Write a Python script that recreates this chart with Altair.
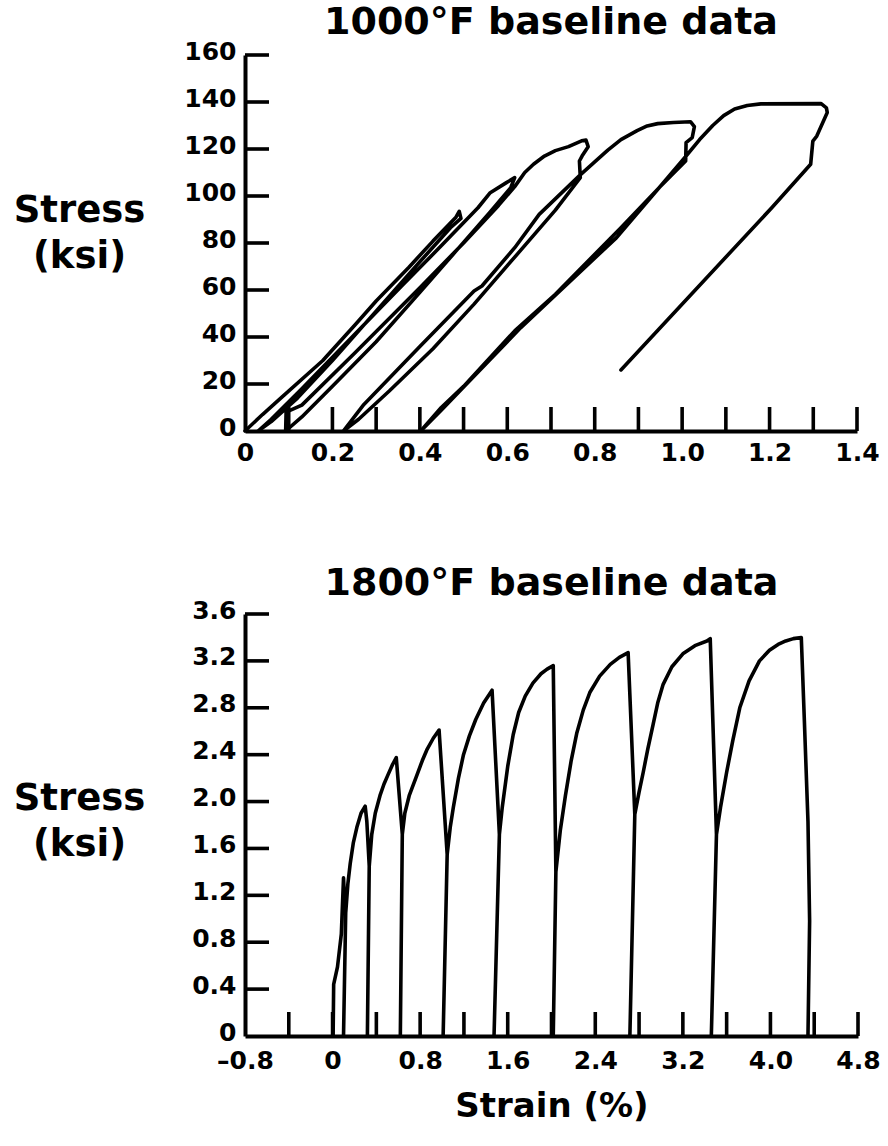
import altair as alt
import pandas as pd

FONT = "DejaVu Sans"

# ---------------- data: 1000°F panel (strain %, stress ksi), one continuous path
top_strain = [0.000, 0.040, 0.085, 0.178, 0.253, 0.300, 0.374, 0.430, 0.482, 0.490, 0.494,
              0.470, 0.400, 0.300, 0.200, 0.120, 0.060, 0.030,
              0.060, 0.130, 0.250, 0.360, 0.450, 0.533, 0.561, 0.598, 0.617,
              0.608, 0.560, 0.480, 0.400, 0.300, 0.200, 0.130, 0.093,
              0.094, 0.130, 0.250, 0.400, 0.500, 0.580, 0.617, 0.640, 0.660, 0.685, 0.710, 0.740,
              0.770, 0.780, 0.785, 0.771, 0.765, 0.767,
              0.710, 0.617, 0.524, 0.430, 0.330, 0.260, 0.225,
              0.250, 0.272, 0.400, 0.524, 0.542, 0.617, 0.673, 0.767, 0.800, 0.830, 0.860, 0.897,
              0.920, 0.944, 0.980, 1.019, 1.028, 1.023, 1.009, 1.008,
              0.950, 0.860, 0.710, 0.617, 0.500, 0.449, 0.402,
              0.450, 0.631, 0.850, 1.000, 1.040, 1.070, 1.095, 1.120, 1.149, 1.180, 1.318,
              1.330, 1.332, 1.308, 1.299, 1.294,
              1.205, 0.860]
top_stress = [0.0, 7.0, 14.5, 30.0, 45.4, 55.3, 69.5, 80.8, 90.8, 93.5, 90.5,
              86.5, 72.0, 51.0, 30.0, 14.0, 4.0, 0.0,
              5.0, 18.0, 41.0, 62.0, 79.0, 95.0, 101.4, 105.7, 107.8,
              103.6, 93.0, 76.0, 59.0, 38.0, 19.0, 6.0, 0.0,
              8.0, 11.0, 33.0, 61.0, 80.0, 96.0, 104.0, 110.0, 113.5, 117.0, 119.3, 121.0,
              123.5, 123.8, 121.0, 117.0, 114.9, 107.8,
              94.0, 74.0, 54.0, 35.0, 17.0, 5.0, 0.0,
              6.0, 11.3, 36.0, 59.6, 61.7, 78.0, 92.2, 109.0, 114.5, 119.5, 124.0, 127.8,
              129.8, 130.8, 131.3, 131.6, 129.5, 124.8, 122.7, 114.9,
              104.0, 86.5, 58.2, 42.6, 19.0, 10.0, 0.0,
              9.0, 44.0, 82.3, 115.0, 124.0, 130.0, 134.2, 137.0, 138.5, 139.2, 139.3,
              137.5, 135.5, 125.5, 123.4, 113.5,
              95.0, 26.0]

# ---------------- data: 1800°F panel
bot_strain = [0.005, 0.010, 0.045, 0.080, 0.100, 0.110, 0.120, 0.100, 0.120,
              0.140, 0.161, 0.190, 0.222, 0.260, 0.298, 0.313, 0.335, 0.318, 0.335,
              0.358, 0.390, 0.433, 0.470, 0.507, 0.545, 0.582, 0.637, 0.619, 0.637,
              0.660, 0.700, 0.768, 0.820, 0.861, 0.920, 0.973, 1.047, 1.010, 1.047,
              1.075, 1.103, 1.150, 1.196, 1.250, 1.308, 1.380, 1.457, 1.524, 1.475, 1.524,
              1.550, 1.600, 1.650, 1.700, 1.760, 1.830, 1.904, 1.960, 2.016, 2.040, 2.016, 2.040,
              2.080, 2.127, 2.180, 2.230, 2.290, 2.350, 2.440, 2.537, 2.620, 2.700,
              2.761, 2.716, 2.761,
              2.800, 2.838, 2.880, 2.929, 2.970, 3.020, 3.100, 3.200, 3.310, 3.420, 3.450,
              3.507, 3.460, 3.507,
              3.544, 3.600, 3.656, 3.720, 3.805, 3.900, 3.991, 4.070, 4.140, 4.210, 4.282,
              4.310, 4.343, 4.358, 4.343]
bot_stress = [0.0, 0.44, 0.59, 0.87, 1.35, 1.15, 1.05, 0.0, 1.05,
              1.30, 1.47, 1.65, 1.78, 1.90, 1.96, 1.83, 1.45, 0.0, 1.45,
              1.72, 1.90, 2.05, 2.15, 2.23, 2.31, 2.375, 1.72, 0.0, 1.72,
              1.90, 2.05, 2.22, 2.35, 2.44, 2.54, 2.61, 1.55, 0.0, 1.55,
              1.78, 1.95, 2.20, 2.40, 2.56, 2.70, 2.84, 2.95, 1.72, 0.0, 1.72,
              1.95, 2.30, 2.57, 2.76, 2.90, 3.01, 3.09, 3.13, 3.16, 1.40, 0.0, 1.40,
              1.75, 2.05, 2.35, 2.58, 2.78, 2.93, 3.07, 3.17, 3.23, 3.27,
              1.89, 0.0, 1.89,
              2.08, 2.25, 2.45, 2.66, 2.84, 3.00, 3.15, 3.26, 3.33, 3.37, 3.39,
              1.72, 0.0, 1.72,
              1.95, 2.25, 2.52, 2.80, 3.03, 3.20, 3.29, 3.34, 3.37, 3.39, 3.40,
              2.69, 1.83, 0.98, 0.0]

# ---------------- ticks / labels
top_xlabels = [0, 0.2, 0.4, 0.6, 0.8, 1.0, 1.2, 1.4]
top_xticks = [0.1, 0.2, 0.3, 0.4, 0.5, 0.6, 0.7, 0.8, 0.9, 1.0, 1.1, 1.2, 1.3, 1.4]
top_ylabels = [0, 20, 40, 60, 80, 100, 120, 140, 160]
top_yticks = [20, 40, 60, 80, 100, 120, 140, 160]

bot_xlabels = [-0.8, 0, 0.8, 1.6, 2.4, 3.2, 4.0, 4.8]
bot_xticks = [-0.4, 0, 0.4, 0.8, 1.2, 1.6, 2.0, 2.4, 2.8, 3.2, 3.6, 4.0, 4.4, 4.8]
bot_ylabels = [0, 0.4, 0.8, 1.2, 1.6, 2.0, 2.4, 2.8, 3.2, 3.6]
bot_yticks = [0.4, 0.8, 1.2, 1.6, 2.0, 2.4, 2.8, 3.2, 3.6]

LW = 3.6
TICK_LEN = 24
LABEL_SIZE = 25


def panel(strain, stress, xdom, ydom, xlabels, xticks, ylabels, yticks,
          w, h, title, xtitle, xfmt, yfmt, ytitle_y, title_offset, xpad):
    xscale = alt.Scale(domain=xdom, nice=False, zero=False)
    yscale = alt.Scale(domain=ydom, nice=False, zero=False)
    xaxis = alt.Axis(values=xlabels, ticks=False, grid=False, domainColor="black",
                     domainWidth=4, labelFont=FONT, labelFontWeight="bold",
                     labelFontSize=LABEL_SIZE, labelColor="black", labelPadding=xpad,
                     labelFlush=False, labelOverlap=False, labelBound=False,
                     labelExpr=xfmt,
                     title=xtitle, titleFont=FONT, titleFontWeight="bold",
                     titleFontSize=34, titleColor="black", titlePadding=16)
    yaxis = alt.Axis(values=ylabels, ticks=False, grid=False, domainColor="black",
                     domainWidth=4, labelFont=FONT, labelFontWeight="bold",
                     labelFontSize=LABEL_SIZE, labelColor="black", labelPadding=9,
                     labelOffset=-4,
                     labelFlush=False, labelOverlap=False, labelBound=False,
                     labelExpr=yfmt,
                     title=["Stress", "(ksi)"], titleAngle=0, titleAlign="center",
                     titleBaseline="alphabetic", titleX=-166, titleY=ytitle_y,
                     titleFont=FONT, titleFontWeight="bold", titleFontSize=37,
                     titleColor="black", titleLineHeight=46)

    df = pd.DataFrame({"strain": strain, "stress": stress, "i": list(range(len(strain)))})
    line = alt.Chart(df).mark_line(color="black", strokeWidth=LW, strokeJoin="round",
                                   strokeCap="round").encode(
        x=alt.X("strain:Q", scale=xscale, axis=xaxis),
        y=alt.Y("stress:Q", scale=yscale, axis=yaxis),
        order=alt.Order("i:Q"),
    )
    yt = alt.Chart(pd.DataFrame({"stress": yticks})).mark_rule(
        color="black", strokeWidth=LW).encode(
        y=alt.Y("stress:Q", scale=yscale, axis=yaxis),
        x=alt.value(0), x2=alt.value(TICK_LEN),
    )
    xt = alt.Chart(pd.DataFrame({"strain": xticks})).mark_rule(
        color="black", strokeWidth=LW).encode(
        x=alt.X("strain:Q", scale=xscale, axis=xaxis),
        y=alt.value(h), y2=alt.value(h - TICK_LEN),
    )
    return alt.layer(line, yt, xt).properties(
        width=w, height=h,
        title=alt.TitleParams(text=title, font=FONT, fontWeight="bold", fontSize=38,
                              anchor="middle", offset=title_offset, color="black"),
    )


fmt_top_x = "datum.value == 0 ? '0' : format(datum.value, '.1f')"
fmt_top_y = "format(datum.value, 'd')"
fmt_bot_x = "datum.value == 0 ? '0' : replace(format(datum.value, '.1f'), '\u2212', '\u2013')"
fmt_bot_y = "datum.value == 0 ? '0' : format(datum.value, '.1f')"

top = panel(top_strain, top_stress, [0, 1.4], [0, 160], top_xlabels, top_xticks,
            top_ylabels, top_yticks, 612, 376, "1000°F baseline data", None,
            fmt_top_x, fmt_top_y, 166, -3, 9)
bottom = panel(bot_strain, bot_stress, [-0.8, 4.8], [0, 3.6], bot_xlabels, bot_xticks,
               bot_ylabels, bot_yticks, 613, 422, "1800°F baseline data", "Strain (%)",
               fmt_bot_x, fmt_bot_y, 195, -5, 12)

chart = alt.vconcat(top, bottom, spacing=100).configure_view(stroke=None).properties(
    padding={"left": 13, "top": 4, "right": 0, "bottom": 0},
    background="white",
)

chart.save("out.html", embed_options={"renderer": "svg", "actions": False})
